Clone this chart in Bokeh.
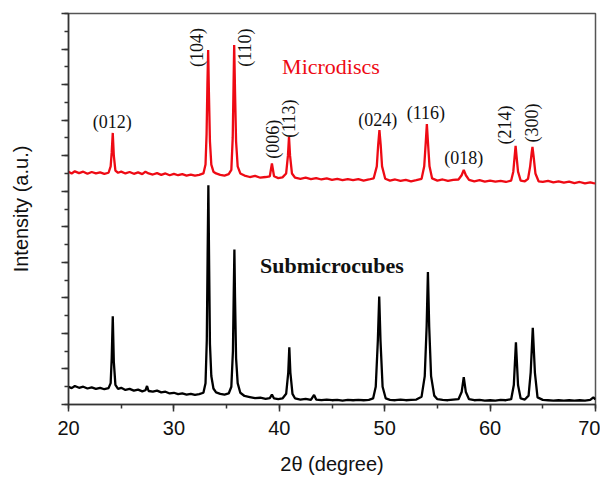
from bokeh.plotting import figure
from bokeh.embed import file_html
from bokeh.resources import INLINE
from bokeh.models import Range1d, SingleIntervalTicker, CustomJSTickFormatter, Label

# Submicrocubes pattern (2theta, intensity a.u.)
submicrocubes = [(20.0,0.50),(20.3,0.46),(20.6,0.52),(21.0,0.47),(21.4,0.50),(21.8,0.45),(22.2,0.48),(22.6,0.44),(23.0,0.47),(23.4,0.43),(23.8,0.46),(24.0,0.6),(24.1,1.3),(24.2,2.48),(24.3,1.2),(24.45,0.55),(24.7,0.44),(25.0,0.47),(25.4,0.41),(25.8,0.44),(26.2,0.39),(26.6,0.42),(27.0,0.37),(27.3,0.40),(27.45,0.52),(27.6,0.38),(28.0,0.36),(28.4,0.39),(28.8,0.34),(29.2,0.36),(29.6,0.31),(30.0,0.33),(30.4,0.29),(30.8,0.31),(31.2,0.28),(31.6,0.30),(32.0,0.27),(32.4,0.29),(32.8,0.33),(33.0,0.6),(33.12,1.8),(33.2,4.2),(33.27,6.17),(33.34,4.0),(33.42,1.7),(33.55,0.8),(33.75,0.45),(34.0,0.34),(34.4,0.30),(34.8,0.28),(35.2,0.31),(35.45,0.5),(35.6,1.5),(35.68,3.2),(35.74,4.36),(35.8,3.0),(35.9,1.3),(36.05,0.6),(36.3,0.33),(36.7,0.24),(37.2,0.21),(37.7,0.18),(38.2,0.19),(38.7,0.16),(39.1,0.18),(39.3,0.28),(39.5,0.17),(39.9,0.15),(40.3,0.17),(40.65,0.3),(40.85,0.9),(40.95,1.61),(41.05,0.9),(41.25,0.3),(41.5,0.17),(42.0,0.14),(42.5,0.16),(43.0,0.13),(43.3,0.27),(43.5,0.14),(44.0,0.12),(44.5,0.14),(45.0,0.12),(45.5,0.13),(46.0,0.11),(46.5,0.13),(47.0,0.12),(47.5,0.13),(48.0,0.12),(48.5,0.13),(48.9,0.17),(49.15,0.5),(49.35,1.8),(49.48,3.04),(49.6,1.8),(49.8,0.5),(50.1,0.17),(50.5,0.13),(51.0,0.12),(51.5,0.14),(52.0,0.12),(52.5,0.13),(53.0,0.14),(53.5,0.22),(53.8,0.8),(53.98,2.2),(54.1,3.73),(54.22,2.2),(54.4,0.8),(54.7,0.25),(55.0,0.15),(55.5,0.13),(56.0,0.12),(56.5,0.14),(57.0,0.15),(57.3,0.35),(57.5,0.77),(57.7,0.35),(58.0,0.15),(58.5,0.12),(59.0,0.13),(59.5,0.11),(60.0,0.12),(60.5,0.11),(61.0,0.13),(61.5,0.12),(62.0,0.15),(62.25,0.55),(62.45,1.75),(62.65,0.55),(62.9,0.17),(63.3,0.14),(63.65,0.25),(63.85,0.9),(64.05,2.16),(64.25,0.9),(64.5,0.2),(65.0,0.13),(65.5,0.12),(66.0,0.11),(66.5,0.12),(67.0,0.11),(67.5,0.12),(68.0,0.11),(68.5,0.12),(69.0,0.11),(69.5,0.13),(69.8,0.2),(70.0,0.14)]

# Microdiscs pattern (2theta, intensity a.u., offset)
microdiscs = [(20.0,6.55),(20.3,6.50),(20.6,6.56),(21.0,6.51),(21.4,6.55),(21.8,6.49),(22.2,6.54),(22.6,6.50),(23.0,6.53),(23.4,6.49),(23.8,6.52),(24.0,6.7),(24.1,7.1),(24.2,7.64),(24.3,7.0),(24.45,6.58),(24.7,6.52),(25.0,6.55),(25.4,6.50),(25.8,6.54),(26.2,6.49),(26.6,6.53),(27.0,6.48),(27.3,6.55),(27.6,6.50),(28.0,6.47),(28.4,6.51),(28.8,6.46),(29.2,6.50),(29.6,6.45),(30.0,6.49),(30.4,6.45),(30.8,6.48),(31.2,6.44),(31.6,6.47),(32.0,6.44),(32.4,6.46),(32.8,6.50),(33.0,6.75),(33.1,7.6),(33.18,9.0),(33.25,9.97),(33.32,8.8),(33.42,7.4),(33.55,6.75),(33.75,6.55),(34.0,6.5),(34.4,6.46),(34.8,6.44),(35.2,6.48),(35.45,6.6),(35.58,7.5),(35.66,9.0),(35.72,10.11),(35.8,8.8),(35.9,7.4),(36.05,6.7),(36.3,6.5),(36.7,6.44),(37.2,6.40),(37.7,6.43),(38.2,6.38),(38.7,6.40),(39.1,6.42),(39.3,6.78),(39.5,6.42),(39.9,6.37),(40.3,6.39),(40.65,6.5),(40.82,7.0),(40.92,7.53),(41.02,7.0),(41.2,6.5),(41.5,6.38),(42.0,6.35),(42.5,6.38),(43.0,6.34),(43.5,6.37),(44.0,6.33),(44.5,6.36),(45.0,6.32),(45.5,6.35),(46.0,6.31),(46.5,6.34),(47.0,6.31),(47.5,6.34),(48.0,6.30),(48.5,6.33),(48.95,6.36),(49.25,6.7),(49.38,7.3),(49.5,7.72),(49.62,7.3),(49.75,6.7),(50.05,6.35),(50.5,6.30),(51.0,6.33),(51.5,6.29),(52.0,6.32),(52.5,6.28),(53.0,6.31),(53.5,6.35),(53.75,6.7),(53.9,7.4),(54.0,7.89),(54.1,7.4),(54.25,6.7),(54.5,6.36),(55.0,6.30),(55.5,6.33),(56.0,6.29),(56.5,6.32),(57.0,6.33),(57.3,6.45),(57.5,6.6),(57.7,6.45),(58.0,6.32),(58.5,6.28),(59.0,6.31),(59.5,6.27),(60.0,6.30),(60.5,6.27),(61.0,6.29),(61.5,6.26),(62.0,6.30),(62.2,6.55),(62.32,6.95),(62.42,7.28),(62.52,6.95),(62.65,6.55),(62.9,6.30),(63.3,6.28),(63.6,6.35),(63.8,6.7),(63.95,7.1),(64.02,7.25),(64.12,7.0),(64.3,6.5),(64.6,6.28),(65.0,6.26),(65.5,6.29),(66.0,6.25),(66.5,6.28),(67.0,6.24),(67.5,6.27),(68.0,6.23),(68.5,6.26),(69.0,6.22),(69.5,6.25),(69.8,6.23),(70.0,6.22)]

# Miller index labels
hkl_text = ["(012)", "(104)", "(110)", "(006)", "(113)", "(024)", "(116)", "(018)", "(214)", "(300)"]
hkl_x = [24.14, 32.2, 36.75, 39.4, 40.92, 49.34, 53.9, 57.5, 61.4, 63.95]
hkl_y = [7.95, 10.04, 10.04, 7.46, 8.04, 8.0, 8.2, 6.93, 7.86, 7.92]
hkl_vertical = [False, True, True, True, True, False, False, False, True, True]

series_names = ["Microdiscs", "Submicrocubes"]

p = figure(width=600, height=479, output_backend="svg", toolbar_location=None,
           x_range=Range1d(20, 70), y_range=Range1d(0, 11),
           min_border_left=68, min_border_right=5, min_border_top=13, min_border_bottom=75)
p.background_fill_color = "white"
p.border_fill_color = "white"
p.grid.visible = False
p.outline_line_color = "#555555"
p.outline_line_width = 1.5

bx, by = zip(*submicrocubes)
rx, ry = zip(*microdiscs)
p.line(list(bx), list(by), line_color="black", line_width=2.3)
p.line(list(rx), list(ry), line_color="#ee0a14", line_width=2.3)

# x axis
p.xaxis.ticker = SingleIntervalTicker(interval=10, num_minor_ticks=2)
p.xaxis.axis_label = "2θ (degree)"
p.xaxis.axis_label_text_font = "Liberation Sans"
p.xaxis.axis_label_text_font_style = "normal"
p.xaxis.axis_label_text_font_size = "20px"
p.xaxis.axis_label_text_color = "#111111"
p.xaxis.major_label_text_font = "Liberation Sans"
p.xaxis.major_label_text_font_size = "20px"
p.xaxis.major_label_text_color = "#111111"
p.xaxis.major_label_standoff = 9
p.xaxis.axis_label_standoff = 15
p.xaxis.major_tick_out = 7
p.xaxis.major_tick_in = 0
p.xaxis.minor_tick_out = 4
p.xaxis.minor_tick_in = 0

# y axis
p.yaxis.ticker = SingleIntervalTicker(interval=1, num_minor_ticks=2)
p.yaxis.formatter = CustomJSTickFormatter(code="return ''")
p.yaxis.axis_label = "Intensity (a.u.)"
p.yaxis.axis_label_text_font = "Liberation Sans"
p.yaxis.axis_label_text_font_style = "normal"
p.yaxis.axis_label_text_font_size = "20px"
p.yaxis.axis_label_text_color = "#111111"
p.yaxis.major_label_standoff = 0
p.yaxis.axis_label_standoff = 30
p.yaxis.major_tick_out = 7
p.yaxis.major_tick_in = 0
p.yaxis.minor_tick_out = 4
p.yaxis.minor_tick_in = 0

for ax in (p.xaxis, p.yaxis):
    ax.axis_line_color = "#333333"
    ax.axis_line_width = 1.5
    ax.major_tick_line_color = "#333333"
    ax.minor_tick_line_color = "#333333"
    ax.major_tick_line_width = 1.5
    ax.minor_tick_line_width = 1.5

# hkl labels
for t, x, y, vert in zip(hkl_text, hkl_x, hkl_y, hkl_vertical):
    p.add_layout(Label(x=x, y=y, text=t, text_font="Liberation Serif", text_font_size="18px",
                       text_color="#111111", text_align="center", text_baseline="middle",
                       angle=1.5708 if vert else 0))

p.add_layout(Label(x=44.9, y=9.52, text=series_names[0], text_font="Liberation Serif",
                   text_font_size="22px", text_color="#ee0a14", text_align="center",
                   text_baseline="middle"))
p.add_layout(Label(x=45.0, y=3.92, text=series_names[1], text_font="Liberation Serif",
                   text_font_size="22px", text_font_style="bold", text_color="#111111",
                   text_align="center", text_baseline="middle"))

open("out.html", "w").write(file_html(p, INLINE))
